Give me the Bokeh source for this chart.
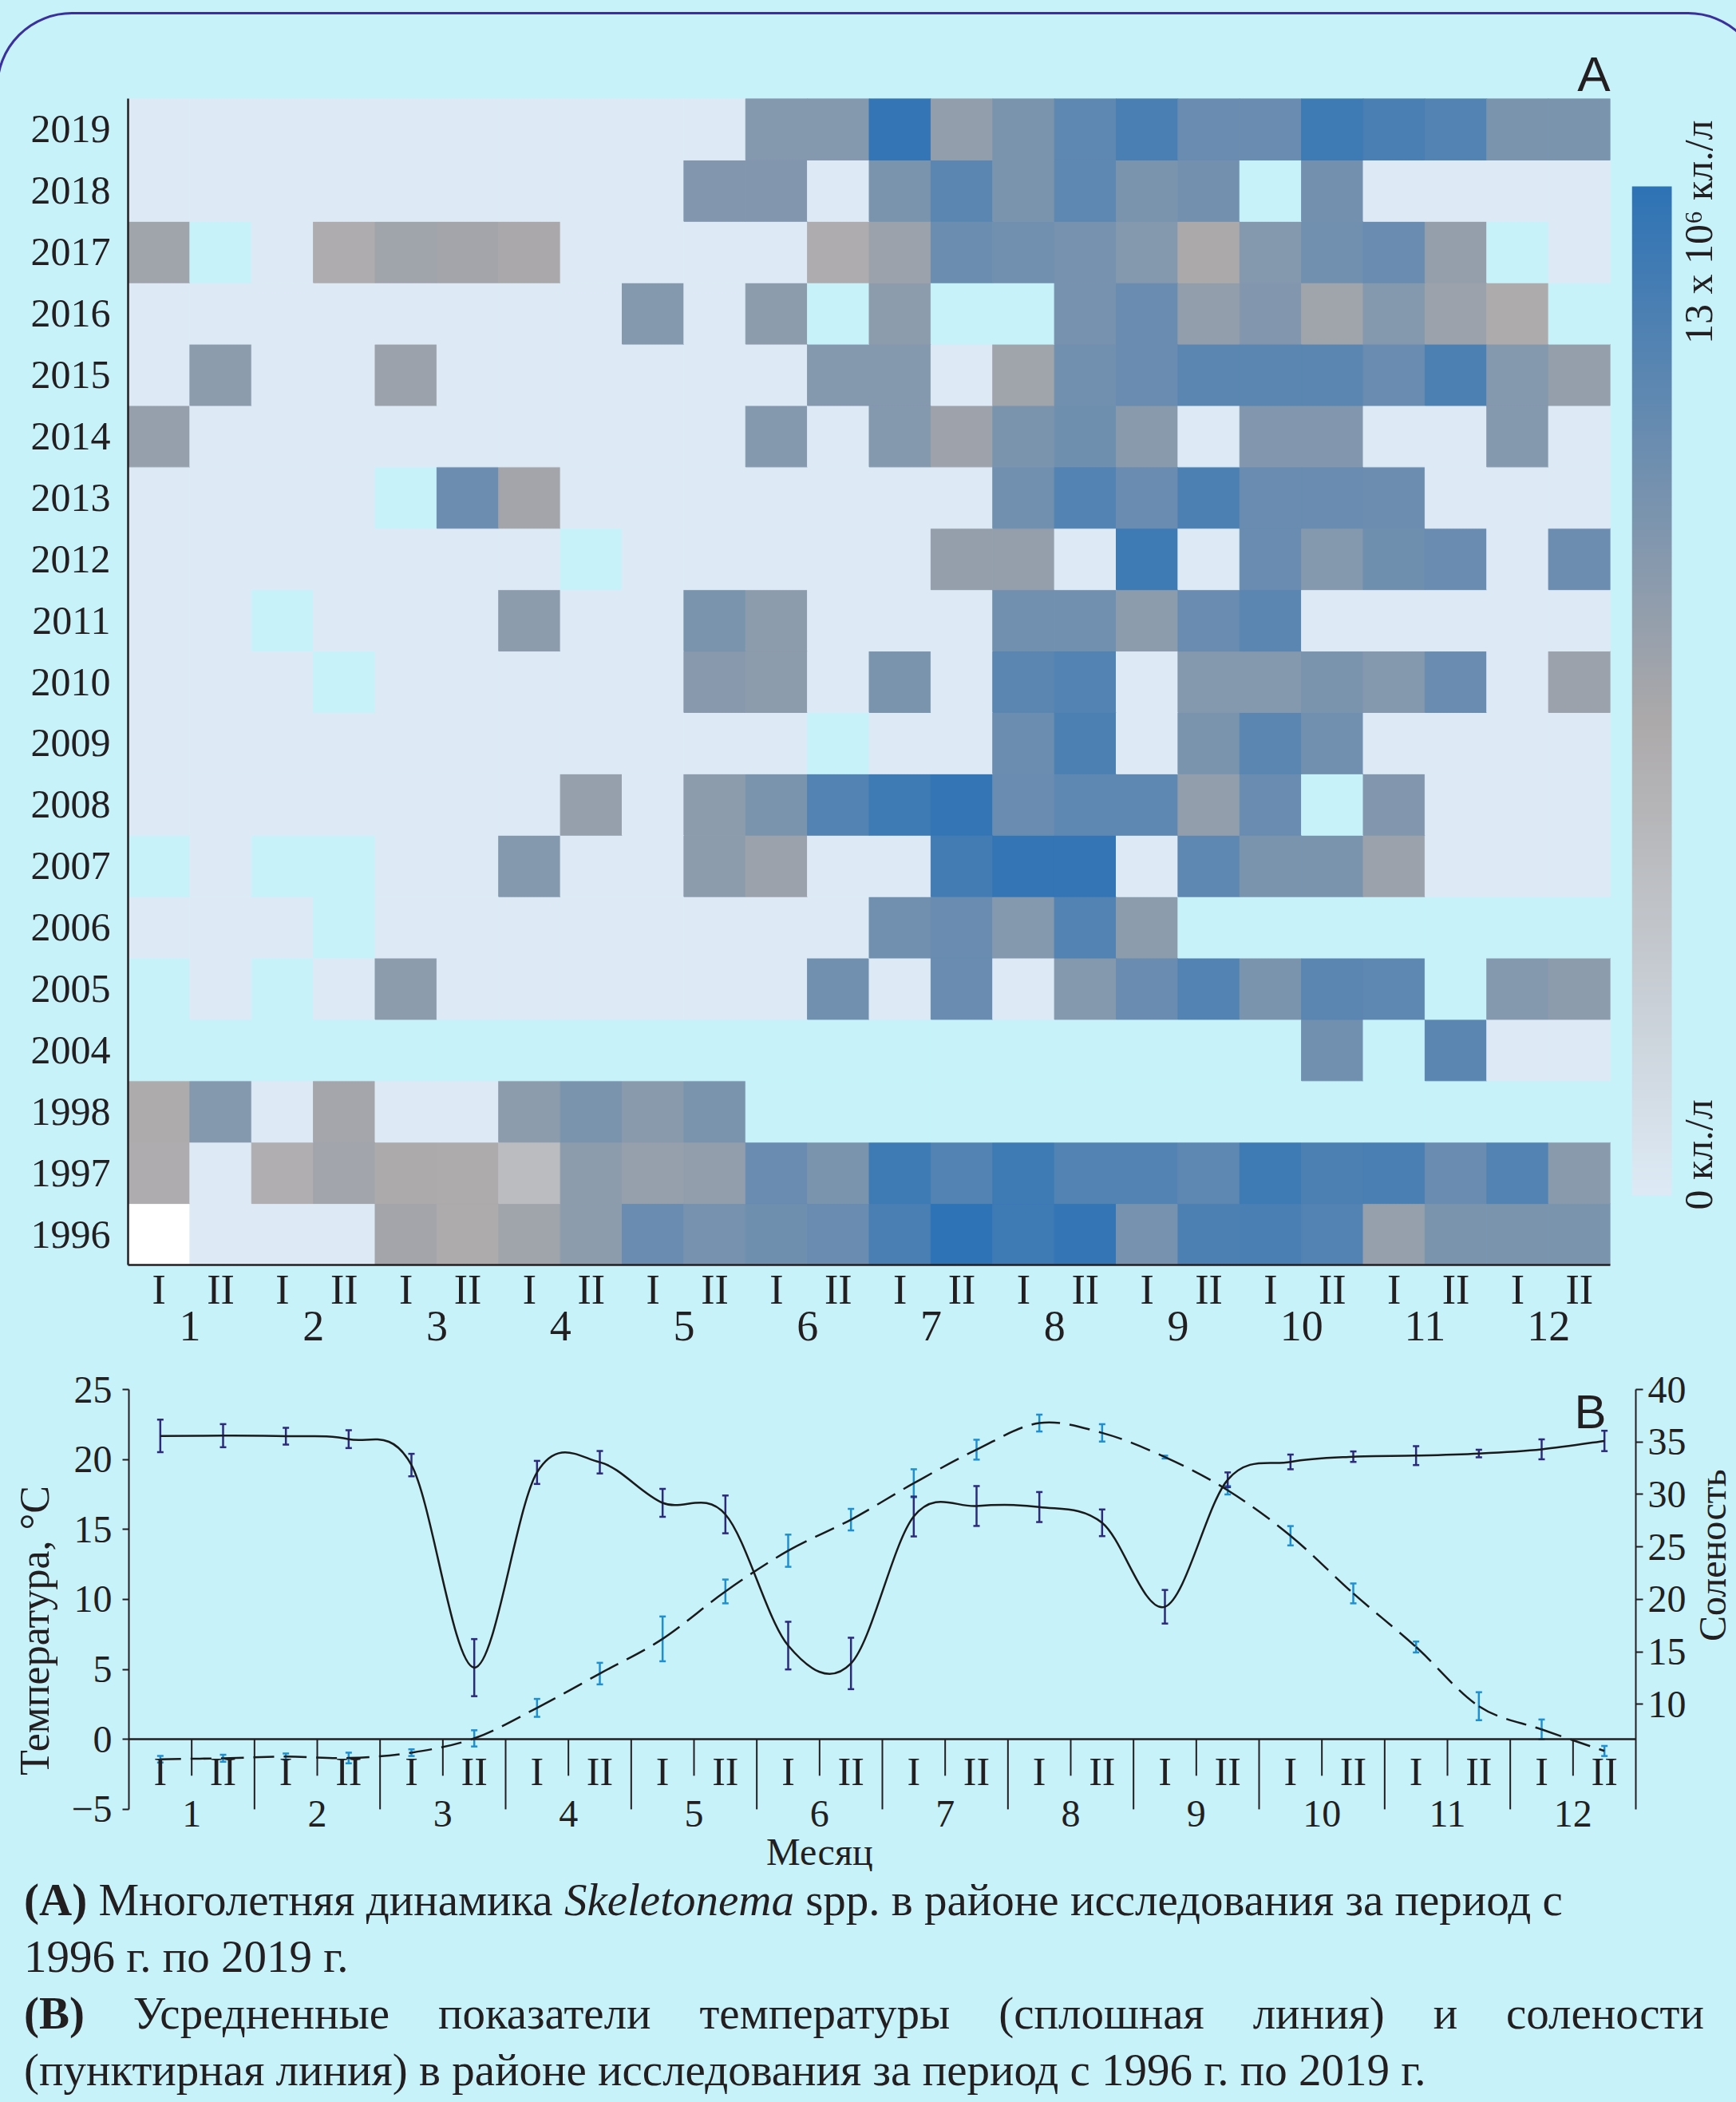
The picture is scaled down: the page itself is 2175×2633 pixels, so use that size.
import numpy as np
from bokeh.plotting import figure
from bokeh.models import (FactorRange, Range1d, LinearColorMapper, ColumnDataSource,
                          Label, LinearAxis, FixedTicker, Whisker, TeeHead, Div)
from bokeh.layouts import column, row
from bokeh.embed import file_html
from bokeh.resources import INLINE

try:
    from bokeh.models import GlobalInlineStyleSheet
except Exception:
    GlobalInlineStyleSheet = None

nan = float("nan")

# ---------------- data ----------------
months = [str(m) for m in range(1, 13)]
halves = ["I", "II"]
years = ["1996", "1997", "1998", "2004", "2005", "2006", "2007", "2008", "2009", "2010",
         "2011", "2012", "2013", "2014", "2015", "2016", "2017", "2018", "2019"]

# Skeletonema spp. abundance, 10^6 cells/L, by half-month (NaN = no sampling, -1 = below scale)
c1996 = [-1, 0, 0, 0, 6.6, 5.9, 6.8, 7.8, 9.8, 9.0, 9.4, 9.8, 11.5, 13.0, 12.1, 12.7, 9.0, 11.3, 11.5, 11.0, 7.3, 8.8, 8.8, 8.8]
c1997 = [5.8, 0, 5.6, 6.7, 6.0, 5.9, 4.3, 7.8, 7.3, 7.5, 9.8, 8.8, 12.1, 11.0, 12.1, 11.0, 11.0, 10.4, 12.1, 11.3, 11.5, 9.8, 11.0, 8.0]
c1998 = [5.9, 8.3, 0, 6.5, 0, 0, 7.8, 8.8, 8.0, 8.8, nan, nan, nan, nan, nan, nan, nan, nan, nan, nan, nan, nan, nan, nan]
c2004 = [nan, nan, nan, nan, nan, nan, nan, nan, nan, nan, nan, nan, nan, nan, nan, nan, nan, nan, nan, 9.3, nan, 10.6, 0, 0]
c2005 = [nan, 0, nan, 0, 7.8, 0, 0, 0, 0, 0, 0, 9.3, 0, 9.8, 0, 8.3, 9.8, 11.0, 8.8, 10.6, 10.4, nan, 8.3, 7.8]
c2006 = [0, 0, 0, nan, 0, 0, 0, 0, 0, 0, 0, 0, 9.3, 9.8, 8.3, 11.0, 7.8, nan, nan, nan, nan, nan, nan, nan]
c2007 = [nan, 0, nan, nan, 0, 0, 8.3, 0, 0, 7.8, 7.0, 0, 0, 11.8, 12.7, 12.7, 0, 10.4, 8.8, 8.8, 7.0, 0, 0, 0]
c2008 = [0, 0, 0, 0, 0, 0, 0, 7.3, 0, 7.8, 8.8, 11.0, 12.1, 12.7, 9.8, 10.4, 10.4, 7.5, 9.8, nan, 8.4, 0, 0, 0]
c2009 = [0, 0, 0, 0, 0, 0, 0, 0, 0, 0, 0, nan, 0, 0, 9.7, 11.3, 0, 8.8, 10.6, 9.3, 0, 0, 0, 0]
c2010 = [0, 0, 0, nan, 0, 0, 0, 0, 0, 8.1, 7.8, 0, 8.8, 0, 10.6, 11.0, 0, 8.3, 8.3, 8.8, 8.3, 9.8, 0, 7.0]
c2011 = [0, 0, nan, 0, 0, 0, 7.8, 0, 0, 8.8, 7.8, 0, 0, 0, 9.3, 9.3, 7.8, 9.8, 10.6, 0, 0, 0, 0, 0]
c2012 = [0, 0, 0, 0, 0, 0, 0, nan, 0, 0, 0, 0, 0, 7.4, 7.4, 0, 12.1, 0, 9.8, 8.3, 9.4, 9.8, 0, 9.6]
c2013 = [0, 0, 0, 0, nan, 9.6, 6.6, 0, 0, 0, 0, 0, 0, 0, 9.3, 11.0, 9.8, 11.3, 9.8, 9.8, 9.6, 0, 0, 0]
c2014 = [7.3, 0, 0, 0, 0, 0, 0, 0, 0, 0, 8.3, 0, 8.3, 6.9, 8.8, 9.4, 8.0, 0, 8.4, 8.4, 0, 0, 8.3, 0]
c2015 = [0, 7.8, 0, 0, 7.0, 0, 0, 0, 0, 0, 0, 8.3, 8.3, 0, 6.8, 9.3, 9.8, 10.6, 10.6, 10.6, 9.8, 11.3, 8.3, 7.4]
c2016 = [0, 0, 0, 0, 0, 0, 0, 0, 8.3, 0, 7.8, nan, 7.8, nan, nan, 9.0, 9.8, 7.5, 8.4, 6.8, 8.3, 7.0, 5.9, nan]
c2017 = [6.8, nan, 0, 5.8, 6.8, 6.6, 6.2, 0, 0, 0, 0, 5.8, 7.0, 9.7, 9.3, 9.0, 8.3, 6.1, 8.3, 9.3, 9.8, 7.4, nan, 0]
c2018 = [0, 0, 0, 0, 0, 0, 0, 0, 0, 8.4, 8.4, 0, 8.8, 10.6, 8.8, 10.4, 8.8, 9.2, nan, 9.2, 0, 0, 0, 0]
c2019 = [0, 0, 0, 0, 0, 0, 0, 0, 0, 0, 8.3, 8.3, 12.7, 7.5, 8.8, 10.4, 11.5, 9.8, 9.8, 12.1, 11.5, 11.0, 8.8, 8.8]

scale_max = 13
scale_top_label = "13 x 10⁶ кл./л"
scale_bottom_label = "0 кл./л"

# Mean temperature (dashed, left axis) and salinity (solid, right axis) per half-month
temp = [-1.42, -1.35, -1.23, -1.33, -0.95, 0.07, 2.25, 4.7, 7.18, 10.57, 13.48, 15.7,
        18.3, 20.7, 22.6, 21.9, 20.17, 17.8, 14.55, 10.43, 6.6, 2.37, 0.71, -0.83]
temp_err = [0.24, 0.25, 0.22, 0.38, 0.24, 0.58, 0.64, 0.77, 1.6, 0.85, 1.15, 0.77,
            1.0, 0.71, 0.6, 0.62, 0.1, 0.3, 0.69, 0.71, 0.39, 1.0, 0.71, 0.36]
sal = [35.57, 35.6, 35.55, 35.27, 32.8, 13.5, 32.1, 33.07, 29.2, 28.1, 15.6, 13.9,
       27.9, 28.9, 28.8, 27.3, 19.3, 31.4, 33.1, 33.6, 33.7, 33.9, 34.3, 35.1]
sal_err = [1.55, 1.1, 0.8, 0.85, 1.07, 2.72, 1.1, 1.07, 1.33, 1.8, 2.27, 2.45,
           1.9, 1.9, 1.43, 1.27, 1.6, 0.7, 0.7, 0.5, 0.9, 0.36, 0.95, 0.97]
temp_ticks = [-5, 0, 5, 10, 15, 20, 25]
sal_ticks = [10, 15, 20, 25, 30, 35, 40]

# ---------------- styles ----------------
BG = "#c7f2fa"
INK = "#231f20"
NAVY = "#2e2a7a"
LBLUE = "#1f8fd0"
SERIF = "Liberation Serif"
SANS = "Liberation Sans"


def hex2rgb(h):
    return tuple(int(h[i:i + 2], 16) for i in (1, 3, 5))


def make_palette(stops, n=256):
    out = []
    for k in range(n):
        f = k / (n - 1)
        for (f0, c0), (f1, c1) in zip(stops[:-1], stops[1:]):
            if f0 <= f <= f1:
                t = (f - f0) / (f1 - f0)
                a, b = hex2rgb(c0), hex2rgb(c1)
                out.append("#%02x%02x%02x" % tuple(int(round(a[i] + (b[i] - a[i]) * t)) for i in range(3)))
                break
    return out


palette = make_palette([(0.0, "#ddeaf5"), (0.47, "#aca9aa"), (1.0, "#2e73b5")])
mapper = LinearColorMapper(palette=palette, low=0, high=scale_max, nan_color=BG, low_color="#ffffff")

x_factors = [(m, h) for m in months for h in halves]
xpos = [i + 0.5 for i in range(len(x_factors))]


def frange(factors):
    return FactorRange(factors=factors, factor_padding=0, subgroup_padding=0,
                       group_padding=0, range_padding=0)


def base_fig(**kw):
    return figure(output_backend="svg", toolbar_location=None, background_fill_color=BG,
                  border_fill_color=BG, outline_line_color=None, **kw)


# ---------------- A: heatmap ----------------
HA = 1700
TOP_A, BOT_A = 123, 116
rows = [c1996, c1997, c1998, c2004, c2005, c2006, c2007, c2008, c2009, c2010,
        c2011, c2012, c2013, c2014, c2015, c2016, c2017, c2018, c2019]
hx, hy, hv = [], [], []
for yr, vals in zip(years, rows):
    for f, v in zip(x_factors, vals):
        hx.append(f)
        hy.append(yr)
        hv.append(v)
hsrc = ColumnDataSource(dict(x=hx, y=hy, v=np.array(hv, dtype=float)))

pA = base_fig(width=2030, height=HA, x_range=frange(x_factors), y_range=frange(years),
              min_border_left=160, min_border_right=13, min_border_top=TOP_A, min_border_bottom=BOT_A,
              title="A")
pA.title.align = "right"
pA.title.text_font = SANS
pA.title.text_font_size = "62px"
pA.title.text_font_style = "normal"
pA.title.text_color = INK
pA.title.standoff = -6
pA.rect(x="x", y="y", width=1, height=1, source=hsrc,
        fill_color={"field": "v", "transform": mapper},
        line_color={"field": "v", "transform": mapper}, line_width=1)
pA.grid.grid_line_color = None
for ax in (pA.xaxis[0], pA.yaxis[0]):
    ax.axis_line_color = INK
    ax.axis_line_width = 2.5
    ax.major_tick_line_color = None
    ax.minor_tick_line_color = None
    ax.major_label_text_font = SERIF
    ax.major_label_text_color = INK
pA.yaxis.major_label_text_font_size = "50px"
pA.xaxis.major_label_text_font_size = "52px"
pA.xaxis.group_text_font = SERIF
pA.xaxis.group_text_font_size = "54px"
pA.xaxis.group_text_font_style = "normal"
pA.xaxis.group_text_color = INK
pA.xaxis.separator_line_color = None
pA.xaxis.major_label_standoff = -4
pA.yaxis.major_label_standoff = 16

# colour scale (same top/bottom borders as the heatmap so the row stays aligned)
cb_px = 1264.0 / scale_max          # pixels per unit on the bar
frame_h = HA - TOP_A - BOT_A
cb_lo = -87 / cb_px
cb_hi = cb_lo + frame_h / cb_px
pC = base_fig(width=145, height=HA, x_range=Range1d(0, 131 / 50), y_range=Range1d(cb_lo, cb_hi),
              x_axis_type=None, y_axis_type=None,
              min_border_left=14, min_border_right=0, min_border_top=TOP_A, min_border_bottom=BOT_A)
pC.image(image=[np.linspace(0, scale_max, 256).reshape(-1, 1)], x=0, y=0, dw=1, dh=scale_max,
         color_mapper=mapper)
pC.add_layout(Label(x=1.66, y=scale_max + 83 / cb_px, text=scale_top_label, angle=90, angle_units="deg",
                    text_align="right", text_baseline="middle", text_font=SERIF,
                    text_font_size="50px", text_color=INK))
pC.add_layout(Label(x=1.66, y=-18 / cb_px, text=scale_bottom_label, angle=90, angle_units="deg",
                    text_align="left", text_baseline="middle", text_font=SERIF,
                    text_font_size="50px", text_color=INK))

# ---------------- B: temperature & salinity ----------------
HB = 644
TOP_B = 40
px_unit = 17.53
t_lo = temp_ticks[-1] - (HB - TOP_B) / px_unit
s_scale = (sal_ticks[-1] - 0) / (temp_ticks[-1] - temp_ticks[0])
sal_range = Range1d((t_lo - temp_ticks[0]) * s_scale, sal_ticks[-1])

pB = base_fig(width=2115, height=HB, x_range=frange(x_factors), y_range=Range1d(t_lo, temp_ticks[-1]),
              min_border_left=161, min_border_right=63, min_border_top=TOP_B, min_border_bottom=0)
pB.extra_y_ranges = {"sal": sal_range}
pB.grid.grid_line_color = None

ya = pB.yaxis[0]
ya.ticker = FixedTicker(ticks=temp_ticks)
ya.bounds = (temp_ticks[0], temp_ticks[-1])
ya.axis_label = "Температура, °C"
ya.axis_label_text_font = SERIF
ya.axis_label_text_font_size = "52px"
ya.axis_label_text_font_style = "normal"
ya.axis_label_text_color = INK
ya.axis_label_standoff = 14

yr_ax = LinearAxis(y_range_name="sal", ticker=FixedTicker(ticks=sal_ticks), bounds=(0, sal_ticks[-1]))
pB.add_layout(yr_ax, "right")
for ax, tout in ((ya, 8), (yr_ax, 9)):
    ax.axis_line_color = INK
    ax.axis_line_width = 2
    ax.major_tick_line_color = INK
    ax.major_tick_line_width = 2
    ax.major_tick_out = tout
    ax.major_tick_in = 0
    ax.minor_tick_line_color = None
    ax.major_label_text_font = SERIF
    ax.major_label_text_font_size = "48px"
    ax.major_label_text_color = INK
ya.major_label_standoff = 13
yr_ax.major_label_standoff = 6

xa = pB.xaxis[0]
xa.fixed_location = 0
xa.axis_line_color = INK
xa.axis_line_width = 2.5
xa.major_tick_line_color = None
xa.minor_tick_line_color = None
xa.separator_line_color = None
xa.major_label_text_font = SERIF
xa.major_label_text_font_size = "50px"
xa.major_label_text_color = INK
xa.group_text_font = SERIF
xa.group_text_font_size = "48px"
xa.group_text_font_style = "normal"
xa.group_text_color = INK
xa.major_label_standoff = 6

# half / month separators below the zero line
half_sep = [i for i in range(1, len(x_factors)) if i % 2 == 1]
month_sep = [i for i in range(1, len(x_factors)) if i % 2 == 0]
pB.segment(x0=half_sep, y0=0, x1=half_sep, y1=-2.6, line_color=INK, line_width=2)
pB.segment(x0=month_sep, y0=0, x1=month_sep, y1=temp_ticks[0], line_color=INK, line_width=2)


def smooth_segments(xv, yv):
    n = len(xv)
    d = {k: [] for k in ("x0", "y0", "x1", "y1", "cx0", "cy0", "cx1", "cy1")}
    for i in range(n - 1):
        i0 = max(i - 1, 0)
        i3 = min(i + 2, n - 1)
        d["x0"].append(xv[i]); d["y0"].append(yv[i])
        d["x1"].append(xv[i + 1]); d["y1"].append(yv[i + 1])
        d["cx0"].append(xv[i] + (xv[i + 1] - xv[i0]) / 6)
        d["cy0"].append(yv[i] + (yv[i + 1] - yv[i0]) / 6)
        d["cx1"].append(xv[i + 1] - (xv[i3] - xv[i]) / 6)
        d["cy1"].append(yv[i + 1] - (yv[i3] - yv[i]) / 6)
    return ColumnDataSource(d)


pB.bezier(x0="x0", y0="y0", x1="x1", y1="y1", cx0="cx0", cy0="cy0", cx1="cx1", cy1="cy1",
          source=smooth_segments(xpos, sal), y_range_name="sal", line_color="#1a1a1a", line_width=2.5)
pB.bezier(x0="x0", y0="y0", x1="x1", y1="y1", cx0="cx0", cy0="cy0", cx1="cx1", cy1="cy1",
          source=smooth_segments(xpos, temp), line_color="#1a1a1a", line_width=2.5, line_dash="26 12")

tsrc = ColumnDataSource(dict(x=xpos, lo=[t - e for t, e in zip(temp, temp_err)],
                             hi=[t + e for t, e in zip(temp, temp_err)]))
ssrc = ColumnDataSource(dict(x=xpos, lo=[s - e for s, e in zip(sal, sal_err)],
                             hi=[s + e for s, e in zip(sal, sal_err)]))
pB.add_layout(Whisker(source=tsrc, base="x", lower="lo", upper="hi", line_color=LBLUE, line_width=2.5,
                      upper_head=TeeHead(size=8, line_color=LBLUE, line_width=2.5),
                      lower_head=TeeHead(size=8, line_color=LBLUE, line_width=2.5)))
pB.add_layout(Whisker(source=ssrc, base="x", lower="lo", upper="hi", y_range_name="sal",
                      line_color=NAVY, line_width=2.5,
                      upper_head=TeeHead(size=8, line_color=NAVY, line_width=2.5),
                      lower_head=TeeHead(size=8, line_color=NAVY, line_width=2.5)))

pB.add_layout(Label(x=23.53, y=23.4, text="B", text_align="right", text_baseline="alphabetic",
                    text_font=SANS, text_font_size="60px", text_color=INK))
pB.add_layout(Label(x=11.0, y=-8.05, text="Месяц", text_align="center", text_baseline="alphabetic",
                    text_font=SERIF, text_font_size="48px", text_color=INK))

# right-hand axis title in its own narrow strip (same vertical borders as pB)
pD = base_fig(width=60, height=HB, x_range=Range1d(0, 1), y_range=sal_range,
              x_axis_type=None, y_axis_type=None,
              min_border_left=0, min_border_right=0, min_border_top=TOP_B, min_border_bottom=0)
pD.add_layout(Label(x=0.5, y=24.2, text="Соленость", angle=90, angle_units="deg",
                    text_align="center", text_baseline="middle", text_font=SERIF,
                    text_font_size="48px", text_color=INK))

# ---------------- captions ----------------
HC = 2633 - HA - HB
cap = ("<div style=\"width:2175px;height:%dpx;overflow:hidden;font-family:'Liberation Serif',serif;"
       "font-size:57px;line-height:71px;color:#231f20;\">"
       "<div style=\"padding-left:30px;white-space:nowrap;\"><b>(A)</b> Многолетняя динамика "
       "<i>Skeletonema</i> spp. в районе исследования за период с</div>"
       "<div style=\"padding-left:30px;white-space:nowrap;\">1996 г. по 2019 г.</div>"
       "<div style=\"padding-left:30px;width:2135px;text-align:justify;text-align-last:justify;\">"
       "<b>(B)</b> Усредненные показатели температуры (сплошная линия) и солености</div>"
       "<div style=\"padding-left:30px;white-space:nowrap;\">(пунктирная линия) в районе исследования "
       "за период с 1996 г. по 2019 г.</div></div>") % HC
div = Div(text=cap, width=2175, height=HC, margin=(0, 0, 0, 0))

sheets = []
if GlobalInlineStyleSheet is not None:
    sheets.append(GlobalInlineStyleSheet(css=(
        "html, body { background: #c7f2fa; }\n"
        "body::before { content: ''; position: fixed; left: -5px; top: 15px; width: 2215px; height: 2800px;"
        " border: 3px solid #3a2f9c; border-radius: 95px; box-sizing: border-box; pointer-events: none; z-index: 5; }\n")))

layout = column(row(pA, pC), row(pB, pD), div, stylesheets=sheets)

open("out.html", "w").write(file_html(layout, INLINE))
